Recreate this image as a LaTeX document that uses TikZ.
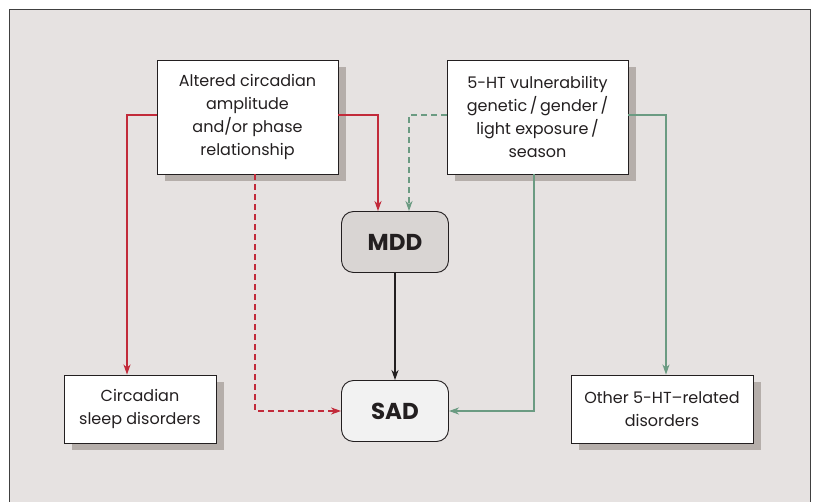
\documentclass[tikz,border=0pt]{standalone}
\usepackage{fontspec}
\setmainfont{Poppins}
\usetikzlibrary{arrows.meta,shadows}
\definecolor{bgc}{HTML}{E6E2E1}
\definecolor{shc}{HTML}{B5AEAA}
\definecolor{redc}{HTML}{C22A3A}
\definecolor{grnc}{HTML}{6B9B82}
\definecolor{txtc}{HTML}{231F20}
\definecolor{mddc}{HTML}{D9D5D3}
\definecolor{sadc}{HTML}{F2F2F2}
\tikzset{
  box/.style={draw=txtc, line width=0.9pt, fill=white, text=txtc, align=center,
    inner sep=2pt, font=\fontsize{16}{22.7}\selectfont,
    drop shadow={shadow xshift=8pt, shadow yshift=-7pt, fill=shc, opacity=1}},
  rbox/.style={draw=txtc, line width=0.9pt, rounded corners=12pt, text=txtc,
    minimum width=107pt, minimum height=61pt, font=\fontsize{23}{26}\selectfont\bfseries},
  conn/.style={line width=1.3pt, -{Stealth[length=10pt,width=7pt,inset=3pt]}},
  dashconn/.style={conn, dash pattern=on 6pt off 4pt}
}
\begin{document}
\begin{tikzpicture}[x=1pt,y=-1pt]
\useasboundingbox (0,0) rectangle (816,502);
\fill[white] (0,0) rectangle (816,502);
\draw[fill=bgc, draw=black!75, line width=1pt] (9.5,9.5) rectangle (810.5,520);

\node[box, minimum width=181pt, minimum height=114pt] (alt) at (247.5,117)
  {Altered circadian\\amplitude\\and/or phase\\relationship};
\node[box, minimum width=181pt, minimum height=114pt] (ht) at (537.5,117)
  {5-HT vulnerability\\genetic\,/\,gender\,/\\light exposure\,/\\season};
\node[rbox, fill=mddc] (mdd) at (395,242) {MDD};
\node[rbox, fill=sadc] (sad) at (395,411) {SAD};
\node[box, minimum width=152pt, minimum height=68pt] (csd) at (140,409)
  {Circadian\\sleep disorders};
\node[box, minimum width=182pt, minimum height=68pt] (oth) at (662,409)
  {Other 5-HT–related\\disorders};

\draw[conn, redc] ([yshift=2pt]alt.west) -| ([xshift=-13pt]csd.north);
\draw[conn, redc] ([yshift=2pt]alt.east) -| ([xshift=-17pt]mdd.north);
\draw[dashconn, grnc] ([yshift=2pt]ht.west) -| ([xshift=14pt]mdd.north);
\draw[dashconn, redc] ([xshift=7.5pt]alt.south) |- (sad.west);
\draw[conn, grnc] ([xshift=-3.5pt]ht.south) |- (sad.east);
\draw[conn, grnc] ([yshift=2pt]ht.east) -| ([xshift=4pt]oth.north);
\draw[conn, txtc] (mdd) -- (sad);
\end{tikzpicture}
\end{document}
